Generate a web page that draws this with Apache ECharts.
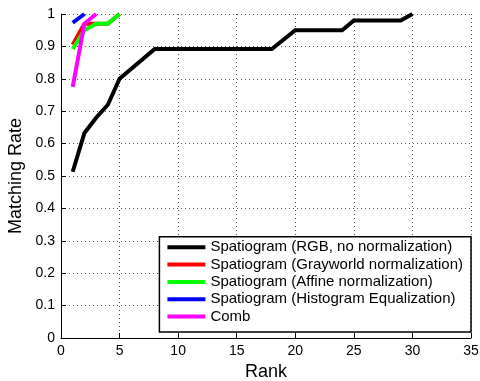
<!DOCTYPE html>
<html>
<head>
<meta charset="utf-8">
<script src="https://cdn.jsdelivr.net/npm/echarts@6/dist/echarts.min.js"></script>
<style>
  html, body { margin: 0; padding: 0; background: #fff; }
  #chart { width: 480px; height: 381px; }
</style>
</head>
<body>
<div id="chart"></div>
<script>
// Cumulative matching rate by rank for each descriptor
const rgbRank = [1, 2, 3, 4, 5, 8, 18, 20, 24, 25, 29, 30];
const rgbRate = [0.513, 0.633, 0.68, 0.72, 0.80, 0.892, 0.892, 0.95, 0.95, 0.98, 0.98, 1.0];

const grayRank = [1, 2, 3, 4, 5];
const grayRate = [0.905, 0.97, 0.97, 0.97, 1.0];

const affineRank = [1, 2, 3, 4, 5];
const affineRate = [0.892, 0.95, 0.97, 0.97, 1.0];

const histEqRank = [1, 2];
const histEqRate = [0.973, 1.0];

const combRank = [1, 2, 3];
const combRate = [0.775, 0.97, 1.0];

const seriesNames = [
  'Spatiogram (RGB, no normalization)',
  'Spatiogram (Grayworld normalization)',
  'Spatiogram (Affine normalization)',
  'Spatiogram (Histogram Equalization)',
  'Comb'
];
const seriesColors = ['#000000', '#ff0000', '#00ff00', '#0000ff', '#ff00ff'];
const seriesX = [rgbRank, grayRank, affineRank, histEqRank, combRank];
const seriesY = [rgbRate, grayRate, affineRate, histEqRate, combRate];

const font = 'Liberation Sans, Arial, Helvetica, sans-serif';

const zip = (xs, ys) => xs.map((x, i) => [x, ys[i]]);

const chart = echarts.init(document.getElementById('chart'), null, { renderer: 'canvas' });

const gridLine = { show: true, lineStyle: { color: '#555', type: [1, 3], width: 1 } };

chart.setOption({
  animation: false,
  backgroundColor: '#fff',
  grid: { left: 61, right: 9, top: 14, bottom: 43, containLabel: false, outerBoundsMode: 'none' },
  xAxis: {
    type: 'value', min: 0, max: 35, interval: 5,
    name: 'Rank', nameLocation: 'middle', nameGap: 20,
    nameTextStyle: { fontFamily: font, fontSize: 18, color: '#000' },
    axisLine: { show: true, onZero: false, lineStyle: { color: '#000', width: 1 } },
    axisTick: { show: true, inside: true, length: 5, lineStyle: { color: '#000' } },
    axisLabel: { fontFamily: font, fontSize: 14, color: '#000', margin: 6 },
    splitLine: gridLine
  },
  yAxis: {
    type: 'value', min: 0, max: 1, interval: 0.1,
    name: 'Matching Rate', nameLocation: 'middle', nameGap: 31, nameRotate: 90,
    nameTextStyle: { fontFamily: font, fontSize: 18, color: '#000' },
    axisLine: { show: true, onZero: false, lineStyle: { color: '#000', width: 1 } },
    axisTick: { show: true, inside: true, length: 5, lineStyle: { color: '#000' } },
    axisLabel: {
      fontFamily: font, fontSize: 14, color: '#000', margin: 6,
      formatter: v => (Math.round(v * 10) / 10).toString()
    },
    splitLine: gridLine
  },
  legend: {
    orient: 'vertical',
    right: 9, bottom: 49,
    itemWidth: 38, itemHeight: 4, itemGap: 2.3,
    icon: 'rect',
    padding: [3, 8, 8, 8],
    backgroundColor: '#fff',
    borderColor: '#000', borderWidth: 1.5, borderRadius: 0,
    textStyle: { fontFamily: font, fontSize: 15, color: '#000', lineHeight: 15 },
    data: seriesNames
  },
  series: seriesNames.map((name, i) => ({
    name,
    type: 'line',
    data: zip(seriesX[i], seriesY[i]),
    showSymbol: false,
    symbol: 'none',
    color: seriesColors[i],
    lineStyle: { color: seriesColors[i], width: 4, join: 'miter' },
    z: 2 + i
  }))
});
</script>
</body>
</html>
